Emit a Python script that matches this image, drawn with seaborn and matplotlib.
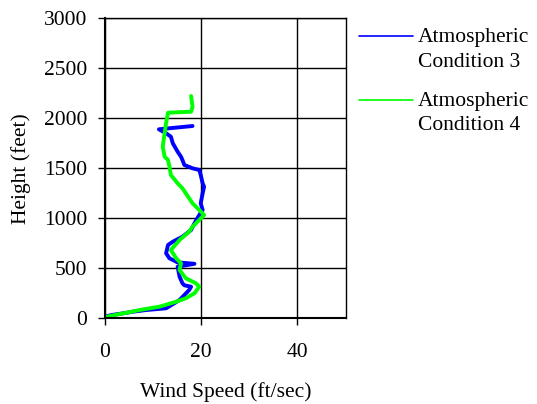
import matplotlib
matplotlib.use("Agg")
import matplotlib.pyplot as plt
from matplotlib.legend_handler import HandlerLine2D
from matplotlib.lines import Line2D
import seaborn as sns
import pandas as pd

sns.set_theme(style="white")
plt.rcParams['font.family'] = ['Liberation Serif', 'DejaVu Serif']
plt.rcParams['text.color'] = 'black'
plt.rcParams['axes.labelcolor'] = 'black'

cond3_speed = [0, 1.4, 3.8, 5.8, 8.6, 12.7, 15.5, 17.5, 17.9, 16.5, 16.1, 15.5, 15.1, 18.6, 15.0,
               14.8, 13.4, 12.7, 13.1, 14.1, 16.1, 17.9, 18.6, 19.6, 20.3, 19.9, 20.3, 20.6,
               20.3, 19.9, 19.6, 18.2, 16.5, 16.1, 15.8, 15.1, 14.1, 13.7, 12.7, 11.2, 18.2]
cond3_height = [17, 33, 50, 66, 83, 100, 183, 283, 316, 330, 350, 416, 516, 545, 560,
                566, 600, 650, 733, 766, 816, 883, 950, 1033, 1083, 1150, 1250, 1316,
                1350, 1433, 1483, 1500, 1533, 1583, 1616, 1666, 1750, 1816, 1850, 1890, 1923]

cond4_speed = [0, 1, 4.5, 7.2, 11.3, 14.8, 16.8, 18.6, 19.6, 18.9, 16.8, 15.5, 15.8, 14.8, 13.7,
               15.5, 17.5, 18.2, 19.6, 20.6, 19.6, 18.2, 16.8, 16.1, 15.1, 13.7, 13.4, 13.1,
               12.4, 12.0, 12.4, 12.7, 13.1, 17.9, 18.2, 17.9]
cond4_height = [10, 23, 56, 83, 116, 166, 200, 250, 316, 350, 400, 483, 550, 600, 683,
                783, 866, 916, 983, 1033, 1083, 1150, 1250, 1300, 1350, 1433, 1516, 1583,
                1616, 1716, 1853, 1953, 2056, 2066, 2116, 2223]

labels = ["Atmospheric\nCondition 3", "Atmospheric\nCondition 4"]
colors = ["#0000ff", "#00ff00"]

df = pd.concat([
    pd.DataFrame({"speed": cond3_speed, "height": cond3_height, "series": labels[0]}),
    pd.DataFrame({"speed": cond4_speed, "height": cond4_height, "series": labels[1]}),
], ignore_index=True)

FS = 15.5

fig = plt.figure(figsize=(5.37, 4.04), dpi=100)
ax = fig.add_axes([105/537, 1-318.3/404, 240.5/537, 300/404])

sns.lineplot(data=df, x="speed", y="height", hue="series", palette=colors, sort=False,
             estimator=None, errorbar=None, linewidth=2.8, ax=ax)

ax.set_xlim(0, 50)
ax.set_ylim(0, 3000)
ax.set_xticks([0, 20, 40])
ax.set_yticks(range(0, 3001, 500))
ax.grid(True, color="black", linewidth=1)
ax.set_axisbelow(True)
for s in ["top", "right"]:
    ax.spines[s].set_color("black")
    ax.spines[s].set_linewidth(1)
for s in ["left", "bottom"]:
    ax.spines[s].set_color("black")
    ax.spines[s].set_linewidth(1.5)
ax.tick_params(axis="both", which="both", direction="out", length=5, width=1, colors="black",
               labelsize=FS, left=True, bottom=True)
ax.tick_params(axis="y", pad=8)
ax.tick_params(axis="x", pad=13)
ax.set_xlabel("Wind Speed (ft/sec)", fontsize=FS, labelpad=14)
ax.set_ylabel("Height (feet)", fontsize=FS, labelpad=9)


class TopLineHandler(HandlerLine2D):
    def create_artists(self, legend, orig_handle, xdescent, ydescent, width, height,
                       fontsize, trans):
        artists = super().create_artists(legend, orig_handle, xdescent, ydescent, width,
                                         height, fontsize, trans)
        for a in artists:
            a.set_ydata([y + 9.4 for y in a.get_ydata()])
            a.set_linewidth(1.2)
        return artists


leg = ax.legend(loc="upper left", bbox_to_anchor=(1.056, 0.967), frameon=False, fontsize=FS,
                handlelength=2.5, handletextpad=0.25, labelspacing=0.95, borderaxespad=0,
                borderpad=0, handler_map={Line2D: TopLineHandler()})
for t in leg.get_texts():
    t.set_linespacing(1.38)

fig.savefig("out.png", dpi=100)
